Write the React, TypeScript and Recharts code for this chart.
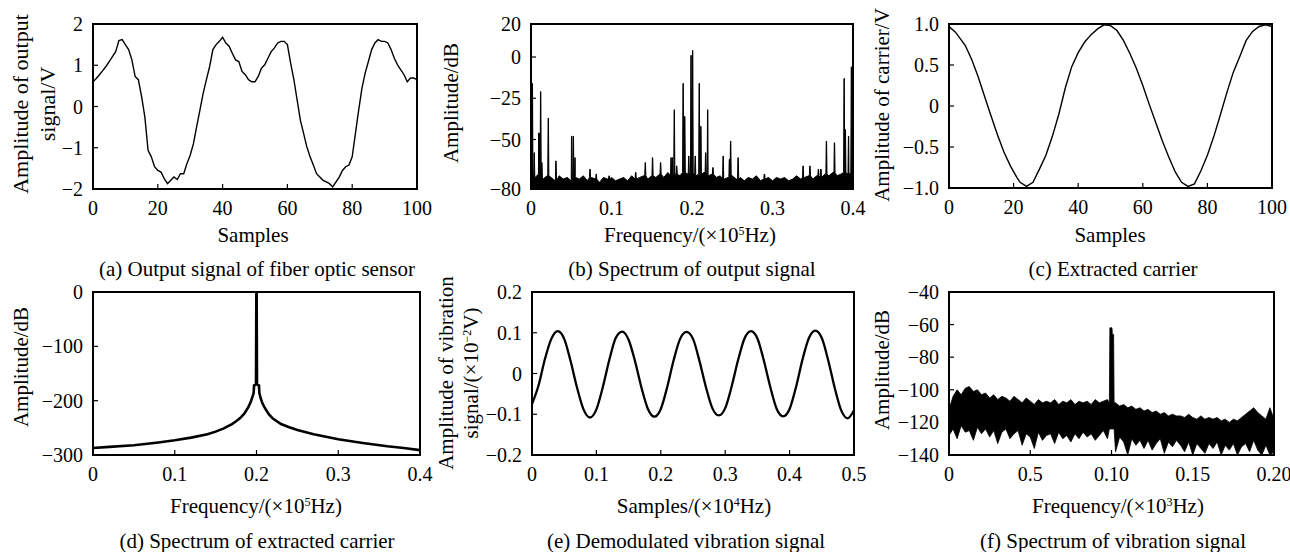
import React from 'react';
import { ComposedChart, Line, Area, XAxis, YAxis, ReferenceArea } from 'recharts';

const FONT = '"Liberation Serif", "Times New Roman", Times, serif';
const TICK_FS = 20;

// ---------- (a) Output signal of fiber optic sensor ----------
const outputSignal = [
  0.60, 0.68, 0.77, 0.87, 0.97, 1.09, 1.21, 1.33, 1.60, 1.62,
  1.50, 1.38, 1.13, 0.73, 0.65, 0.24, -0.25, -1.06, -1.22, -1.46,
  -1.55, -1.59, -1.75, -1.87, -1.79, -1.71, -1.77, -1.63, -1.63, -1.38,
  -1.18, -0.90, -0.49, -0.09, 0.32, 0.65, 0.97, 1.38, 1.50, 1.58,
  1.68, 1.54, 1.46, 1.29, 1.13, 1.09, 0.85, 0.77, 0.65, 0.60,
  0.60, 0.73, 0.93, 1.01, 1.17, 1.33, 1.42, 1.54, 1.58, 1.58,
  1.50, 1.05, 0.65, 0.16, -0.33, -0.65, -0.98, -1.22, -1.42, -1.63,
  -1.71, -1.79, -1.83, -1.87, -1.95, -1.83, -1.71, -1.55, -1.46, -1.42,
  -1.22, -0.65, -0.09, 0.44, 0.81, 1.09, 1.38, 1.54, 1.62, 1.58,
  1.58, 1.54, 1.38, 1.17, 1.01, 0.89, 0.77, 0.60, 0.69, 0.69,
  0.65,
];
const aXTicks = [0, 20, 40, 60, 80, 100];
const aYTicks = [-2, -1, 0, 1, 2];

// ---------- (b) Spectrum of output signal ----------
const bFloorStep = 0.005;
const bFloorTop = [
  -70, -73, -71, -74, -72, -73, -75, -72, -74, -73,
  -75, -73, -74, -72, -75, -73, -74, -76, -73, -74,
  -73, -75, -74, -73, -75, -72, -74, -73, -72, -74,
  -72, -73, -71, -73, -70, -72, -71, -72, -70, -71,
  -70, -72, -71, -70, -72, -71, -73, -72, -74, -73,
  -72, -74, -73, -75, -73, -74, -72, -75, -74, -73,
  -75, -73, -74, -73, -75, -74, -72, -74, -73, -72,
  -74, -72, -73, -71, -72, -70, -72, -71, -70, -71,
  -70,
];
const bPeakFreqs = [
  0.0017, 0.004, 0.0099, 0.012, 0.0135, 0.0215, 0.031, 0.0505, 0.0526, 0.0547,
  0.0733, 0.081, 0.097, 0.13, 0.142, 0.151, 0.161, 0.174, 0.1755, 0.178,
  0.181, 0.189, 0.191, 0.196, 0.1988, 0.2008, 0.204, 0.209, 0.211, 0.217,
  0.2195, 0.226, 0.2387, 0.2465, 0.248, 0.2573, 0.29, 0.338, 0.3465, 0.357,
  0.36, 0.367, 0.377, 0.389, 0.3905, 0.3945, 0.398,
];
const bPeakAmps = [
  -16, -58, -46, -21, -64, -37, -63, -48, -48, -61,
  -68, -71, -72, -70, -64, -61, -64, -61, -61, -32,
  -66, -16, -36, -60, 1, 4, -60, -16, -42, -58,
  -32, -67, -60, -62, -51, -61, -71, -66, -66, -68,
  -68, -51, -52, -13, -44, -48, -6,
];
const bXTicks = [0, 0.1, 0.2, 0.3, 0.4];
const bYTicks = [-80, -50, -25, 0, 20];

// ---------- (c) Extracted carrier ----------
const carrierSamples = [
  0, 2, 5, 7, 9, 11, 13, 15, 17, 19, 21, 22, 24, 26, 28, 30, 32, 34, 36, 38,
  40, 42, 44, 46, 48, 50, 52, 54, 56, 58, 60, 62, 64, 66, 68, 70, 72, 74, 76, 78,
  80, 82, 84, 86, 88, 90, 92, 94, 96, 98, 100,
];
const carrierValues = [
  0.97, 0.90, 0.74, 0.57, 0.36, 0.12, -0.12, -0.35, -0.56, -0.73, -0.87, -0.93, -0.98, -0.93, -0.77, -0.60, -0.37, -0.10, 0.22, 0.48,
  0.65, 0.78, 0.87, 0.94, 0.99, 0.98, 0.92, 0.80, 0.64, 0.46, 0.25, 0.02, -0.20, -0.42, -0.62, -0.80, -0.93, -0.98, -0.95, -0.79,
  -0.60, -0.37, -0.11, 0.16, 0.41, 0.60, 0.80, 0.91, 0.97, 0.99, 0.97,
];
const cXTicks = [0, 20, 40, 60, 80, 100];
const cYTicks = [-1, -0.5, 0, 0.5, 1];

// ---------- (d) Spectrum of extracted carrier ----------
const dFreqs = [
  0, 0.02, 0.05, 0.08, 0.1, 0.12, 0.14, 0.15, 0.16, 0.17,
  0.175, 0.18, 0.185, 0.19, 0.193, 0.195, 0.1965, 0.197, 0.1985, 0.1994,
  0.1998, 0.2002, 0.2006, 0.2015, 0.203, 0.2035, 0.205, 0.207, 0.21, 0.215,
  0.22, 0.23, 0.24, 0.25, 0.27, 0.3, 0.33, 0.36, 0.38, 0.4,
];
const dAmps = [
  -287, -285, -282, -277, -273, -268, -262, -257, -251, -243,
  -238, -232, -224, -212, -202, -193, -186, -172, -171, -170,
  -4, -4, -170, -171, -172, -186, -195, -204, -213, -225,
  -233, -243, -249, -254, -262, -271, -278, -284, -287, -291,
];
const dXTicks = [0, 0.1, 0.2, 0.3, 0.4];
const dYTicks = [-300, -200, -100, 0];

// ---------- (e) Demodulated vibration signal ----------
const eStep = 0.01;
const vibration = [
  -0.075, -0.030, 0.035, 0.085, 0.104, 0.085, 0.030, -0.035, -0.088, -0.108,
  -0.088, -0.033, 0.033, 0.087, 0.103, 0.083, 0.030, -0.035, -0.087, -0.106,
  -0.087, -0.033, 0.033, 0.085, 0.102, 0.085, 0.031, -0.033, -0.085, -0.103,
  -0.085, -0.032, 0.033, 0.086, 0.104, 0.086, 0.032, -0.033, -0.087, -0.105,
  -0.087, -0.033, 0.034, 0.087, 0.105, 0.087, 0.032, -0.035, -0.090, -0.110,
  -0.090,
];
const eXTicks = [0, 0.1, 0.2, 0.3, 0.4, 0.5];
const eYTicks = [-0.2, -0.1, 0, 0.1, 0.2];

// ---------- (f) Spectrum of vibration signal ----------
const fStep = 0.0025;
const fBandHigh = [
  -112, -104, -100, -103, -99,
  -98, -101, -100, -103,
  -102, -105, -103, -106, -104, -105, -107, -104,
  -106, -108, -105, -107, -109, -106, -108, -107,
  -108, -106, -109, -107, -108, -106, -109, -107,
  -108, -107, -109, -106, -108, -107, -106, -108,
  -108, -110, -109, -111, -110, -112, -111, -113,
  -112, -114, -113, -115, -114, -116, -115, -116,
  -116, -117, -115, -117, -118, -116, -118, -117,
  -118, -117, -119, -118, -120, -118, -119, -117,
  -115, -113, -111, -114, -116, -118, -111, -118,
];
const fBandLow = [
  -128, -124, -130, -122, -126,
  -125, -131, -123, -127,
  -124, -129, -125, -133, -126, -124, -130, -127,
  -125, -134, -127, -129, -136, -126, -131, -128,
  -127, -133, -126, -130, -128, -132, -127, -130,
  -126, -129, -127, -131, -128, -125, -130, -126,
  -138, -129, -132, -140, -130, -134, -131, -136,
  -131, -137, -133, -130, -139, -132, -135, -131,
  -134, -138, -132, -140, -133, -136, -139, -133,
  -136, -132, -140, -134, -137, -133, -140, -135,
  -133, -138, -131, -137, -140, -134, -140, -138,
];
const fPeakFreqs = [0.0987, 0.0990, 0.1003, 0.1005, 0.1013, 0.1016];
const fPeakHigh = [-108, -62, -62, -66, -66, -108];
const fPeakLow = [-124, -124, -124, -124, -124, -124];
const fXTicks = [0, 0.05, 0.1, 0.15, 0.2];
const fXTickLabels = ['0', '0.5', '0.10', '0.15', '0.20'];
const fYTicks = [-140, -120, -100, -80, -60, -40];

// ---------- tables ----------
const r = (v: number) => Math.round(v * 100000) / 100000;

const aTable = outputSignal.map((v, i) => ({ x: i, y: v }));

const bTable = (() => {
  const rows: { x: number; band: number[] }[] = bFloorTop.map((v, i) => ({ x: r(i * bFloorStep), band: [-80, v] }));
  bPeakFreqs.forEach((f, i) => {
    const base = bFloorTop[Math.min(bFloorTop.length - 1, Math.round(f / bFloorStep))];
    rows.push({ x: r(f - 0.0007), band: [-80, base] });
    rows.push({ x: r(f - 0.0002), band: [-80, bPeakAmps[i]] });
    rows.push({ x: r(f + 0.0002), band: [-80, bPeakAmps[i]] });
    rows.push({ x: r(f + 0.0007), band: [-80, base] });
  });
  return rows.sort((p, q) => p.x - q.x);
})();

const cTable = carrierSamples.map((s, i) => ({ x: s, y: carrierValues[i] }));
const dTable = dFreqs.map((f, i) => ({ x: f, y: dAmps[i] }));
const eTable = vibration.map((v, i) => ({ x: r(i * eStep), y: v }));

const fTable = (() => {
  const lo = fPeakFreqs[0];
  const hi = fPeakFreqs[fPeakFreqs.length - 1];
  const rows: { x: number; band: number[] }[] = [];
  fBandHigh.forEach((h, i) => {
    const f = r(i * fStep);
    if (f > lo && f < hi) return;
    rows.push({ x: f, band: [fBandLow[i], h] });
  });
  fPeakFreqs.forEach((f, i) => rows.push({ x: f, band: [fPeakLow[i], fPeakHigh[i]] }));
  return rows.sort((p, q) => p.x - q.x);
})();

// ---------- helpers ----------
const minus = (s: string) => s.replace('-', '\u2212');
const plain = (v: number) => minus(String(v));
const oneDec = (v: number) => (v === 0 ? '0' : minus(v.toFixed(1)));

function makeXTick(fmt: (v: number) => string) {
  return (props: any) => {
    const { x, y, payload } = props;
    return (
      <g>
        <line x1={x} x2={x} y1={y} y2={y - 5} stroke="#000" strokeWidth={1.2} />
        <text x={x} y={y + 26} textAnchor="middle" fontFamily={FONT} fontSize={TICK_FS} fill="#000">
          {fmt(payload.value)}
        </text>
      </g>
    );
  };
}

function makeYTick(fmt: (v: number) => string) {
  return (props: any) => {
    const { x, y, payload } = props;
    return (
      <g>
        <line x1={x} x2={x + 5} y1={y} y2={y} stroke="#000" strokeWidth={1.2} />
        <text x={x - 10} y={y} dy="0.35em" textAnchor="end" fontFamily={FONT} fontSize={TICK_FS} fill="#000">
          {fmt(payload.value)}
        </text>
      </g>
    );
  };
}

interface PanelProps {
  left: number; top: number; width: number; height: number;
  x0: number; x1: number; y0: number; y1: number;
  data: any[];
  xDomain: [number, number]; xTicks: number[]; xFmt: (v: number) => string;
  yDomain: [number, number]; yTicks: number[]; yFmt: (v: number) => string;
  children: React.ReactNode;
}

function Panel(p: PanelProps) {
  return (
    <div style={{ position: 'absolute', left: p.left, top: p.top, width: p.width, height: p.height }}>
      <ComposedChart
        width={p.width}
        height={p.height}
        data={p.data}
        margin={{ top: p.y0 - p.top, right: p.left + p.width - p.x1, bottom: 0, left: 0 }}
      >
        <XAxis
          dataKey="x"
          type="number"
          domain={p.xDomain}
          ticks={p.xTicks}
          interval={0}
          allowDataOverflow
          height={p.top + p.height - p.y1}
          tickSize={0}
          tickMargin={0}
          axisLine={false}
          tickLine={false}
          tick={makeXTick(p.xFmt)}
        />
        <YAxis
          type="number"
          domain={p.yDomain}
          ticks={p.yTicks}
          interval={0}
          allowDataOverflow
          width={p.x0 - p.left}
          tickSize={0}
          tickMargin={0}
          axisLine={false}
          tickLine={false}
          tick={makeYTick(p.yFmt)}
        />
        {p.children}
        <ReferenceArea
          x1={p.xDomain[0]}
          x2={p.xDomain[1]}
          y1={p.yDomain[0]}
          y2={p.yDomain[1]}
          fill="none"
          fillOpacity={0}
          stroke="#000"
          strokeWidth={2}
          ifOverflow="visible"
        />
      </ComposedChart>
    </div>
  );
}

function SupText({ pre, sup, post }: { pre: string; sup: string; post: string }) {
  return (
    <>
      {pre}
      <tspan dy={-7} fontSize={12}>{sup}</tspan>
      <tspan dy={7}>{post}</tspan>
    </>
  );
}

export default function App() {
  return (
    <div style={{ position: 'absolute', left: 0, top: 0, width: 1290, height: 552, background: '#fff', overflow: 'hidden' }}>
      <Panel left={0} top={0} width={445} height={230} x0={93} x1={417} y0={24} y1={189}
        data={aTable} xDomain={[0, 100]} xTicks={aXTicks} xFmt={plain} yDomain={[-2, 2]} yTicks={aYTicks} yFmt={plain}>
        <Line type="linear" dataKey="y" stroke="#000" strokeWidth={1.4} dot={false} activeDot={false} isAnimationActive={false} />
      </Panel>

      <Panel left={440} top={0} width={440} height={230} x0={531} x1={853} y0={24} y1={189}
        data={bTable} xDomain={[0, 0.4]} xTicks={bXTicks} xFmt={plain} yDomain={[-80, 20]} yTicks={bYTicks} yFmt={plain}>
        <Area type="linear" dataKey="band" stroke="#000" strokeWidth={1} fill="#000" fillOpacity={1} dot={false} activeDot={false} isAnimationActive={false} />
      </Panel>

      <Panel left={870} top={0} width={420} height={230} x0={949} x1={1272} y0={24} y1={188}
        data={cTable} xDomain={[0, 100]} xTicks={cXTicks} xFmt={plain} yDomain={[-1, 1]} yTicks={cYTicks} yFmt={oneDec}>
        <Line type="linear" dataKey="y" stroke="#000" strokeWidth={1.4} dot={false} activeDot={false} isAnimationActive={false} />
      </Panel>

      <Panel left={0} top={282} width={445} height={218} x0={93} x1={420} y0={292} y1={455}
        data={dTable} xDomain={[0, 0.4]} xTicks={dXTicks} xFmt={plain} yDomain={[-300, 0]} yTicks={dYTicks} yFmt={plain}>
        <Line type="linear" dataKey="y" stroke="#000" strokeWidth={2.6} dot={false} activeDot={false} isAnimationActive={false} />
      </Panel>

      <Panel left={440} top={282} width={440} height={218} x0={532} x1={854} y0={292} y1={455}
        data={eTable} xDomain={[0, 0.5]} xTicks={eXTicks} xFmt={plain} yDomain={[-0.2, 0.2]} yTicks={eYTicks} yFmt={plain}>
        <Line type="monotone" dataKey="y" stroke="#000" strokeWidth={2.3} dot={false} activeDot={false} isAnimationActive={false} />
      </Panel>

      <Panel left={870} top={282} width={420} height={218} x0={949} x1={1274} y0={292} y1={455}
        data={fTable} xDomain={[0, 0.2]} xTicks={fXTicks} xFmt={(v) => fXTickLabels[fXTicks.indexOf(v)] ?? String(v)}
        yDomain={[-140, -40]} yTicks={fYTicks} yFmt={plain}>
        <Area type="linear" dataKey="band" stroke="#000" strokeWidth={0.8} fill="#000" fillOpacity={1} dot={false} activeDot={false} isAnimationActive={false} />
      </Panel>

      <svg width={1290} height={552} style={{ position: 'absolute', left: 0, top: 0, pointerEvents: 'none' }}
        fontFamily={FONT} fill="#000">
        {/* y-axis titles */}
        <text transform="translate(28,104) rotate(-90)" textAnchor="middle" fontSize={22}>Amplitude of output</text>
        <text transform="translate(55,104) rotate(-90)" textAnchor="middle" fontSize={22}>signal/V</text>
        <text transform="translate(458,103) rotate(-90)" textAnchor="middle" fontSize={21}>Amplitude/dB</text>
        <text transform="translate(889,105) rotate(-90)" textAnchor="middle" fontSize={21}>Amplitude of carrier/V</text>
        <text transform="translate(28,367) rotate(-90)" textAnchor="middle" fontSize={21}>Amplitude/dB</text>
        <text transform="translate(453,373) rotate(-90)" textAnchor="middle" fontSize={21}>Amplitude of vibration</text>
        <text transform="translate(478,373) rotate(-90)" textAnchor="middle" fontSize={21}>
          <SupText pre="signal/(×10" sup={'\u22122'} post="V)" />
        </text>
        <text transform="translate(889,370) rotate(-90)" textAnchor="middle" fontSize={21}>Amplitude/dB</text>

        {/* x-axis titles */}
        <text x={253} y={242} textAnchor="middle" fontSize={21}>Samples</text>
        <text x={690} y={242} textAnchor="middle" fontSize={21}><SupText pre="Frequency/(×10" sup="5" post="Hz)" /></text>
        <text x={1110} y={242} textAnchor="middle" fontSize={21}>Samples</text>
        <text x={256} y={513} textAnchor="middle" fontSize={21}><SupText pre="Frequency/(×10" sup="5" post="Hz)" /></text>
        <text x={694} y={513} textAnchor="middle" fontSize={21}><SupText pre="Samples/(×10" sup="4" post="Hz)" /></text>
        <text x={1118} y={513} textAnchor="middle" fontSize={21}><SupText pre="Frequency/(×10" sup="3" post="Hz)" /></text>

        {/* captions */}
        <text x={257} y={276} textAnchor="middle" fontSize={21}>(a) Output signal of fiber optic sensor</text>
        <text x={692} y={276} textAnchor="middle" fontSize={21}>(b) Spectrum of output signal</text>
        <text x={1113} y={276} textAnchor="middle" fontSize={21}>(c) Extracted carrier</text>
        <text x={257} y={548} textAnchor="middle" fontSize={21}>(d) Spectrum of extracted carrier</text>
        <text x={686} y={548} textAnchor="middle" fontSize={21}>(e) Demodulated vibration signal</text>
        <text x={1113} y={548} textAnchor="middle" fontSize={21}>(f) Spectrum of vibration signal</text>
      </svg>
    </div>
  );
}
